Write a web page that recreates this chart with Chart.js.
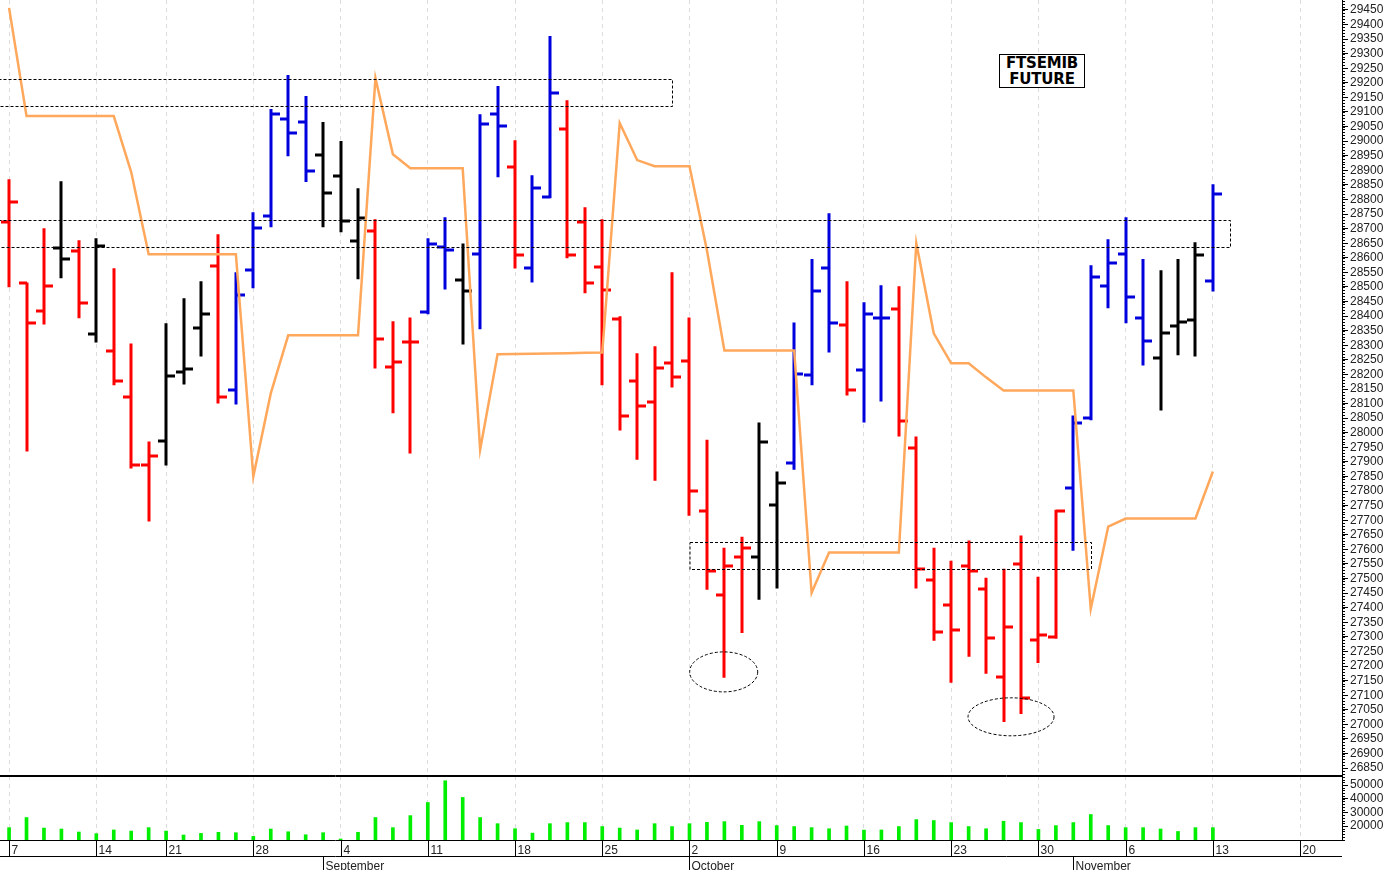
<!DOCTYPE html>
<html><head><meta charset="utf-8">
<script src="https://cdn.jsdelivr.net/npm/chart.js@4.4.0/dist/chart.umd.min.js"></script>
<style>
html,body{margin:0;padding:0;background:#fff;overflow:hidden;}
#wrap{position:relative;width:1391px;height:870px;}
#c1{position:absolute;left:0;top:0;}
#c2{position:absolute;left:0;top:776px;}
#title{position:absolute;left:999px;top:54px;width:84px;height:32px;border:1px solid #000;font:bold 15px "DejaVu Sans",sans-serif;text-align:center;line-height:16px;letter-spacing:-0.2px;background:#fff;}
</style></head><body>
<div id="wrap">
<canvas id="c1" width="1391" height="776"></canvas>
<canvas id="c2" width="1391" height="94"></canvas>
<div id="title">FTSEMIB<br>FUTURE</div>
</div>
<script>
// Trading-day bars, starting Monday Aug 7
const opens  = [28722,28512,28416,28633,28622,28337,28279,28121,27888,27973,28207,28358,28571,28148,28557,28743,29076,29065,28952,28880,28657,28691,28224,28310,28413,28636,28523,28612,29093,28911,28564,28808,29041,28722,28567,28389,28176,28107,28238,28245,27733,27445,27575,27575,27754,27898,28197,28564,28368,28214,28392,28423,27949,27496,27410,27544,27465,27163,27551,27290,27300,27812,28049,28502,28612,28392,28258,28365,28385,28519];
const highs  = [28866,28512,28698,28859,28657,28664,28561,28303,27967,28372,28458,28516,28677,28547,28753,29107,29223,29151,29062,28997,28835,28729,28379,28392,28664,28736,28646,29089,29186,29000,28880,29357,29137,28770,28729,28396,28269,28293,28547,28392,27973,27602,27640,28032,27864,28375,28592,28749,28516,28444,28502,28499,27984,27602,27558,27627,27499,27530,27644,27503,27733,28056,28571,28660,28736,28592,28554,28592,28650,28849];
const lows   = [28502,27939,28375,28533,28396,28313,28166,27881,27699,27891,28169,28265,28104,28100,28499,28708,28952,28863,28708,28691,28530,28224,28070,27932,28410,28495,28306,28358,28880,28567,28519,28808,28602,28482,28166,28011,27911,27839,28159,27719,27465,27163,27317,27431,27469,27877,28166,28279,28131,28039,28111,27991,27469,27290,27146,27235,27177,27012,27039,27214,27297,27599,28046,28430,28379,28234,28080,28269,28265,28488];
const closes = [28791,28375,28502,28595,28444,28640,28179,27888,27922,28193,28217,28406,28121,28471,28701,29093,29028,28897,28822,28725,28736,28320,28241,28310,28646,28626,28485,29058,29052,28609,28839,29165,28609,28512,28488,28056,28093,28221,28190,27802,27527,27544,27606,27970,27829,28200,28485,28375,28148,28406,28392,28039,27534,27317,27324,27527,27297,27335,27091,27307,27733,28032,28533,28581,28464,28313,28341,28379,28609,28818];
const barColors = "rrrkrkrrrkkkrbbbbbkkkrrrbbkbbrbbrrrrrrrrrrrkkbbbrbbrrrrrrrrrrbbbbbkkkbb";
const trendLine = [29457,29086,29086,29086,29086,29086,29086,28894,28612,28612,28612,28612,28612,28612,27850,28135,28334,28334,28334,28334,28334,29216,28955,28907,28907,28907,28907,27942,28269,28270,28271,28272,28273,28274,28275,29062,28935,28914,28914,28914,28626,28282,28282,28282,28282,28282,27451,27589,27589,27589,27589,27589,28650,28341,28238,28238,28190,28145,28145,28145,28145,28145,27396,27678,27706,27706,27706,27706,27706,27867];
const volumes = [18800,26200,18500,17800,15600,14400,17100,16300,18800,16300,13400,14600,15400,15100,12400,17800,15800,13600,15100,10500,15400,26200,18800,27600,37200,53100,40900,26200,21700,18000,14800,21700,22500,22500,19600,18500,17100,21700,19600,21700,22700,23200,20500,23200,20300,19600,18800,18000,20000,17000,17100,19600,24700,24000,22500,19600,18000,23500,22500,17500,20300,22500,28400,20300,18800,18800,17800,16000,18800,18800];
const weekStarts = [0,5,9,14,19,24,29,34,39,44,49,54,59,64,69,74];
const weekLabels = ['7','14','21','28','4','11','18','25','2','9','16','23','30','6','13','20'];
const monthStarts = [18,39,61];
const monthLabels = ['September','October','November'];
const priceTicks = []; for (let v=26850; v<=29450; v+=50) priceTicks.push(v);
const volTicks = [20000,30000,40000,50000];
// annotations (in data units)
const rects = [[-1,37.98,29213,29120],[-1,70.0,28729,28636],[39.0,62.0,27627,27534]];
const ellipses = [[40.96,27180,34,20],[57.43,27026,43,19]];

const XMIN=-0.52, XMAX=76.4;
const colorMap={r:'#ff0000',b:'#0000dd',k:'#000000'};
const FONT={family:'"Liberation Sans", Arial, sans-serif',size:12};

const priceDraw = {
  id:'priceDraw',
  beforeDatasetsDraw(chart){
    const {ctx,scales:{x,y},chartArea:a}=chart;
    ctx.save();
    ctx.beginPath();ctx.rect(a.left,a.top,a.right-a.left,a.bottom-a.top);ctx.clip();
    ctx.lineWidth=3;ctx.lineCap='butt';
    for(let i=0;i<opens.length;i++){
      const px=Math.round(x.getPixelForValue(i));
      ctx.strokeStyle=colorMap[barColors[i]];
      ctx.beginPath();
      ctx.moveTo(px,y.getPixelForValue(highs[i])-1);ctx.lineTo(px,y.getPixelForValue(lows[i])+1);
      const yo=Math.round(y.getPixelForValue(opens[i])),yc=Math.round(y.getPixelForValue(closes[i]));
      ctx.moveTo(px-8,yo);ctx.lineTo(px,yo);
      ctx.moveTo(px,yc);ctx.lineTo(px+9,yc);
      ctx.stroke();
    }
    ctx.restore();
  },
  afterDraw(chart){
    const {ctx,scales:{x,y},chartArea:a}=chart;
    ctx.save();
    ctx.strokeStyle='#000';ctx.lineWidth=1;ctx.setLineDash([3,2]);
    for(const r of rects){
      const x1=Math.max(x.getPixelForValue(r[0]),a.left-2)+0.5,x2=Math.round(x.getPixelForValue(r[1]))+0.5;
      const y1=Math.round(y.getPixelForValue(r[2]))+0.5,y2=Math.round(y.getPixelForValue(r[3]))+0.5;
      ctx.strokeRect(x1,y1,x2-x1,y2-y1);
    }
    for(const e of ellipses){
      ctx.beginPath();ctx.ellipse(x.getPixelForValue(e[0]),y.getPixelForValue(e[1]),e[2],e[3],0,0,Math.PI*2);ctx.stroke();
    }
    ctx.setLineDash([]);
    for(let v=26830; v<=29480; v+=10){
      const py=Math.round(y.getPixelForValue(v))+0.5;
      ctx.beginPath();ctx.moveTo(a.right,py);ctx.lineTo(a.right+3,py);ctx.stroke();
    }
    ctx.beginPath();ctx.moveTo(0,775.5);ctx.lineTo(a.right,775.5);ctx.stroke();
    ctx.restore();
  }
};

const noPad = s=>{s.width=49;s.paddingTop=0;s.paddingBottom=0;};

new Chart(document.getElementById('c1'),{
  type:'line',
  data:{datasets:[{data:trendLine.map((v,i)=>({x:i,y:v})),borderColor:'#ffa85c',borderWidth:2.5,pointRadius:0,tension:0}]},
  options:{
    responsive:false,animation:false,devicePixelRatio:1,
    layout:{padding:0},
    plugins:{legend:{display:false},tooltip:{enabled:false}},
    scales:{
      x:{type:'linear',min:XMIN,max:XMAX,
        afterBuildTicks:s=>{s.ticks=weekStarts.map(v=>({value:v}));},
        afterFit:s=>{s.height=0;s.paddingLeft=0;s.paddingRight=0;},
        ticks:{display:false},grid:{color:'#dcdcdc',drawTicks:false},border:{display:false,dash:[4,4]}},
      y:{type:'linear',position:'right',min:26823,max:29484,
        afterBuildTicks:s=>{s.ticks=priceTicks.map(v=>({value:v}));},
        afterFit:noPad,
        ticks:{font:FONT,color:'#222',padding:2,autoSkip:false,callback:v=>String(v)},
        grid:{drawOnChartArea:false,tickLength:6,tickColor:'#000'},
        border:{display:true,color:'#000'}}
    }
  },
  plugins:[priceDraw]
});

const volDraw={
  id:'volDraw',
  afterDraw(chart){
    const {ctx,scales:{x,y},chartArea:a}=chart;
    ctx.save();
    ctx.strokeStyle='#000';ctx.lineWidth=1;
    ctx.beginPath();ctx.moveTo(0,0.5);ctx.lineTo(a.right,0.5);ctx.stroke();
    for(let v=10000; v<=56000; v+=2000){
      const py=Math.round(y.getPixelForValue(v))+0.5;
      ctx.beginPath();ctx.moveTo(a.right,py);ctx.lineTo(a.right+3,py);ctx.stroke();
    }
    const b=Math.round(a.bottom)+0.5, r2=b+16;
    ctx.beginPath();ctx.moveTo(0,b);ctx.lineTo(a.right,b);ctx.moveTo(0,r2);ctx.lineTo(a.right,r2);ctx.stroke();
    ctx.fillStyle='#222';ctx.font='12px "Liberation Sans", Arial, sans-serif';ctx.textBaseline='alphabetic';
    weekStarts.forEach((w,k)=>{
      const px=Math.round(x.getPixelForValue(w))+0.5;
      ctx.beginPath();ctx.moveTo(px,b);ctx.lineTo(px,r2);ctx.stroke();
      ctx.fillText(weekLabels[k],px+2,b+13);
    });
    monthStarts.forEach((m,k)=>{
      const px=Math.round(x.getPixelForValue(m))+0.5;
      ctx.beginPath();ctx.moveTo(px,r2);ctx.lineTo(px,r2+16);ctx.stroke();
      ctx.fillText(monthLabels[k],px+2,r2+13);
    });
    ctx.restore();
  }
};

new Chart(document.getElementById('c2'),{
  type:'bar',
  data:{datasets:[{data:volumes.map((v,i)=>({x:i,y:v})),backgroundColor:'#00ee00',barThickness:3}]},
  options:{
    responsive:false,animation:false,devicePixelRatio:1,
    layout:{padding:0},
    plugins:{legend:{display:false},tooltip:{enabled:false}},
    scales:{
      x:{type:'linear',min:XMIN,max:XMAX,offset:false,
        afterBuildTicks:s=>{s.ticks=weekStarts.map(v=>({value:v}));},
        afterFit:s=>{s.height=30;s.paddingLeft=0;s.paddingRight=0;},
        ticks:{display:false},grid:{color:'#dcdcdc',drawTicks:false,offset:false},border:{display:false,dash:[4,4]}},
      y:{type:'linear',position:'right',min:9760,max:56590,
        afterBuildTicks:s=>{s.ticks=volTicks.map(v=>({value:v}));},
        afterFit:noPad,
        ticks:{font:FONT,color:'#222',padding:2,autoSkip:false,callback:v=>String(v)},
        grid:{drawOnChartArea:false,tickLength:6,tickColor:'#000'},
        border:{display:true,color:'#000'}}
    }
  },
  plugins:[volDraw]
});
</script>
</body></html>
